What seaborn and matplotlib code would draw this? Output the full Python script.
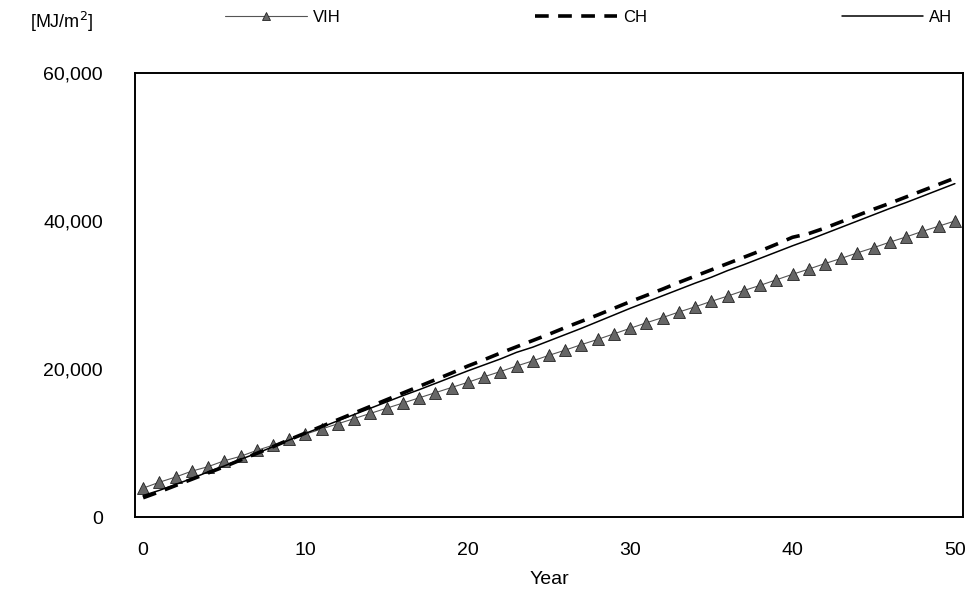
import numpy as np
import matplotlib
matplotlib.use("Agg")
import matplotlib.pyplot as plt
from matplotlib.ticker import FuncFormatter
import seaborn as sns

years = list(range(0, 51))

vih = [3900, 4700, 5400, 6200, 6800, 7600, 8200, 9000, 9700, 10500,
       11200, 11900, 12600, 13300, 14000, 14700, 15400, 16100, 16800, 17500,
       18200, 18950, 19650, 20400, 21100, 21850, 22550, 23300, 24000, 24750,
       25500, 26250, 26950, 27700, 28400, 29150, 29850, 30600, 31300, 32050,
       32800, 33500, 34250, 34950, 35700, 36400, 37150, 37850, 38600, 39300,
       40000]

ch = [2600, 3400, 4250, 5100, 5950, 6800, 7700, 8600, 9500, 10450,
      11350, 12250, 13150, 14050, 14950, 15850, 16750, 17650, 18550, 19450,
      20400, 21250, 22150, 23000, 23850, 24700, 25600, 26450, 27300, 28200,
      29100, 29950, 30800, 31700, 32550, 33400, 34250, 35100, 35950, 36850,
      37800, 38300, 39050, 39900, 40750, 41600, 42400, 43250, 44100, 44950,
      45800]

ah = [2900, 3600, 4400, 5200, 6100, 6900, 7800, 8600, 9500, 10400,
      11300, 12150, 13000, 13850, 14700, 15550, 16400, 17200, 18050, 18900,
      19750, 20550, 21350, 22250, 22950, 23800, 24650, 25500, 26400, 27300,
      28200, 29050, 29900, 30750, 31600, 32400, 33300, 34100, 34950, 35800,
      36650, 37450, 38300, 39150, 40000, 40850, 41700, 42500, 43350, 44200,
      45050]

x_ticks = [0, 10, 20, 30, 40, 50]
y_ticks = [0, 20000, 40000, 60000]


def main():
    sns.set_style("white")
    plt.rcParams['font.family'] = ['Liberation Sans', 'DejaVu Sans']
    plt.rcParams['text.color'] = 'black'
    plt.rcParams['axes.labelcolor'] = 'black'

    fig = plt.figure(figsize=(9.71, 5.98), dpi=100)
    ax = fig.add_axes([135 / 971, 1 - 517 / 598, (963 - 135) / 971, (517 - 73) / 598])

    sns.lineplot(x=years, y=vih, ax=ax, color='#555555', linewidth=0.8,
                 marker='^', markersize=9, markerfacecolor='#666666',
                 markeredgecolor='#222222', markeredgewidth=0.6, label='VIH')
    sns.lineplot(x=years, y=ch, ax=ax, color='black', linewidth=2.6,
                 linestyle=(0, (3.8, 2.6)), label='CH')
    sns.lineplot(x=years, y=ah, ax=ax, color='black', linewidth=1.1,
                 label='AH')

    ax.set_xlim(-0.5, 50.5)
    ax.set_ylim(0, 60000)
    ax.set_xticks(x_ticks)
    ax.set_yticks(y_ticks)
    ax.yaxis.set_major_formatter(FuncFormatter(lambda v, p: f"{v:,.0f}"))
    ax.tick_params(axis='both', length=0, labelsize=14, colors='black')
    ax.tick_params(axis='y', pad=23)
    ax.tick_params(axis='x', pad=18)
    ax.set_xlabel('Year', fontsize=14, labelpad=9)
    ax.set_ylabel('')

    for sp in ax.spines.values():
        sp.set_visible(True)
        sp.set_color('black')
        sp.set_linewidth(1.4)

    leg = ax.legend(ncol=3, loc='center left', bbox_to_anchor=(225 / 971, 1 - 17 / 598),
                    bbox_transform=fig.transFigure, frameon=False, fontsize=12,
                    handlelength=4.9, handletextpad=0.35, columnspacing=11.7,
                    numpoints=1, borderaxespad=0, borderpad=0)
    leg.legend_handles[0].set_markersize(6)

    fig.text(30 / 971, 1 - 22 / 598, '[MJ/m$^2$]', fontsize=13, va='center', ha='left')

    fig.savefig('out.png', dpi=100)
    plt.close(fig)


if __name__ == "__main__":
    main()
